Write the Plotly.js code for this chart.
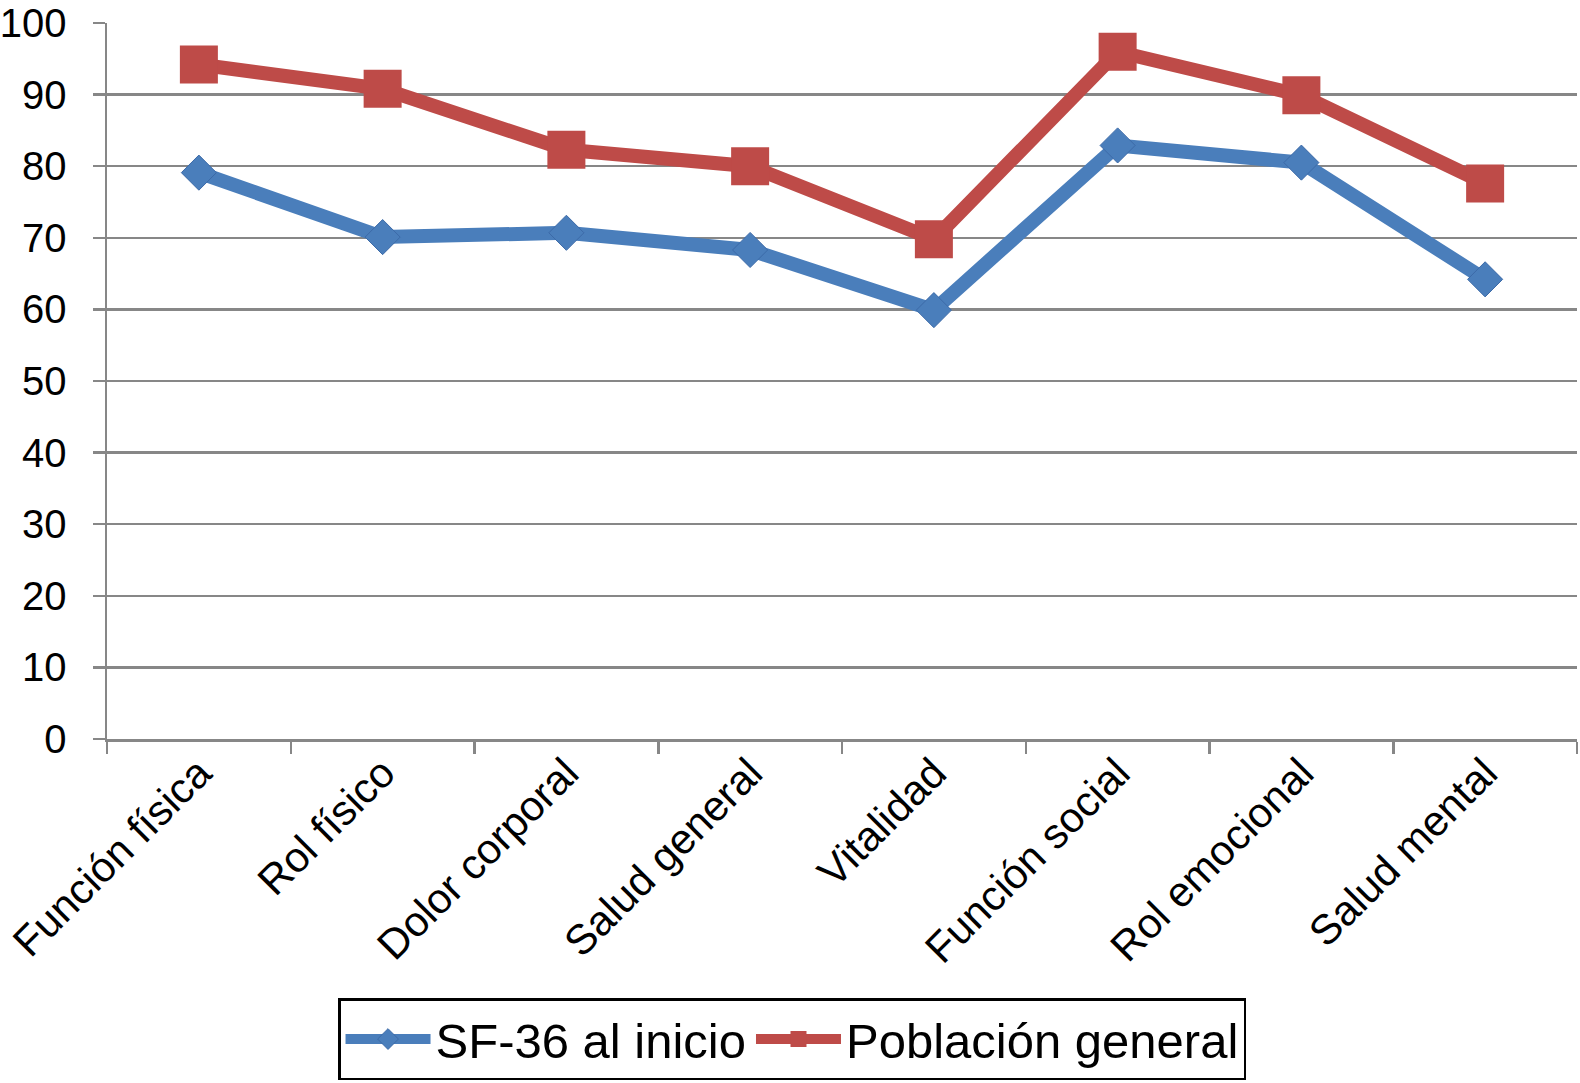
<!DOCTYPE html>
<html>
<head>
<meta charset="utf-8">
<script src="https://cdn.plot.ly/plotly-3.0.1.min.js"></script>
<style>html,body{margin:0;padding:0;background:#fff;}#chart{width:1580px;height:1083px;}</style>
</head>
<body>
<div id="chart"></div>
<script>
var categories = ["Función física", "Rol físico", "Dolor corporal", "Salud general", "Vitalidad", "Función social", "Rol emocional", "Salud mental"];
var sf36Inicio = [79.1, 70.1, 70.7, 68.3, 59.9, 82.9, 80.5, 64.2];
var poblacionGeneral = [94.2, 90.8, 82.3, 80.0, 69.8, 96.0, 89.9, 77.6];
var yTicks = [0, 10, 20, 30, 40, 50, 60, 70, 80, 90, 100];

var traces = [
  {
    x: categories, y: sf36Inicio, name: "SF-36 al inicio", type: "scatter", mode: "lines+markers",
    line: {color: "#4A7EBB", width: 14},
    marker: {symbol: "diamond", size: 27, color: "#4A7EBB", line: {color: "#3C6AA8", width: 1}}
  },
  {
    x: categories, y: poblacionGeneral, name: "Población general", type: "scatter", mode: "lines+markers",
    line: {color: "#BE4B48", width: 14},
    marker: {symbol: "square", size: 38, color: "#BE4B48", line: {width: 0}}
  }
];

var layout = {
  width: 1580, height: 1083,
  paper_bgcolor: "#fff", plot_bgcolor: "#fff",
  margin: {l: 107, r: 3, t: 23, b: 344, pad: 0, autoexpand: false},
  font: {family: "Liberation Sans, Arial, sans-serif", color: "#000"},
  showlegend: true,
  xaxis: {
    type: "category", range: [-0.5, 7.5], tickson: "boundaries",
    showline: true, linecolor: "#878787", linewidth: 2.5,
    ticks: "outside", ticklen: 12, tickwidth: 2.5, tickcolor: "#878787",
    showgrid: false, zeroline: false,
    tickangle: -45, tickfont: {size: 42, color: "#000"}, ticklabelstandoff: -10
  },
  yaxis: {
    range: [0, 100], tickvals: yTicks, ticktext: yTicks.map(String),
    showline: true, linecolor: "#878787", linewidth: 2.5,
    ticks: "outside", ticklen: 12, tickwidth: 2.5, tickcolor: "#878787",
    showgrid: true, gridcolor: "#878787", gridwidth: 2.5, zeroline: false,
    tickfont: {size: 40, color: "#000"}, ticklabelstandoff: 18
  },
  legend: {
    orientation: "h", x: 0.466, xanchor: "center", y: -0.362, yanchor: "top",
    bordercolor: "#000", borderwidth: 2.5, bgcolor: "#fff",
    font: {size: 49, color: "#000"}, itemwidth: 85, tracegroupgap: 0
  }
};

Plotly.newPlot("chart", traces, layout, {displayModeBar: false, staticPlot: true});
</script>
</body>
</html>
